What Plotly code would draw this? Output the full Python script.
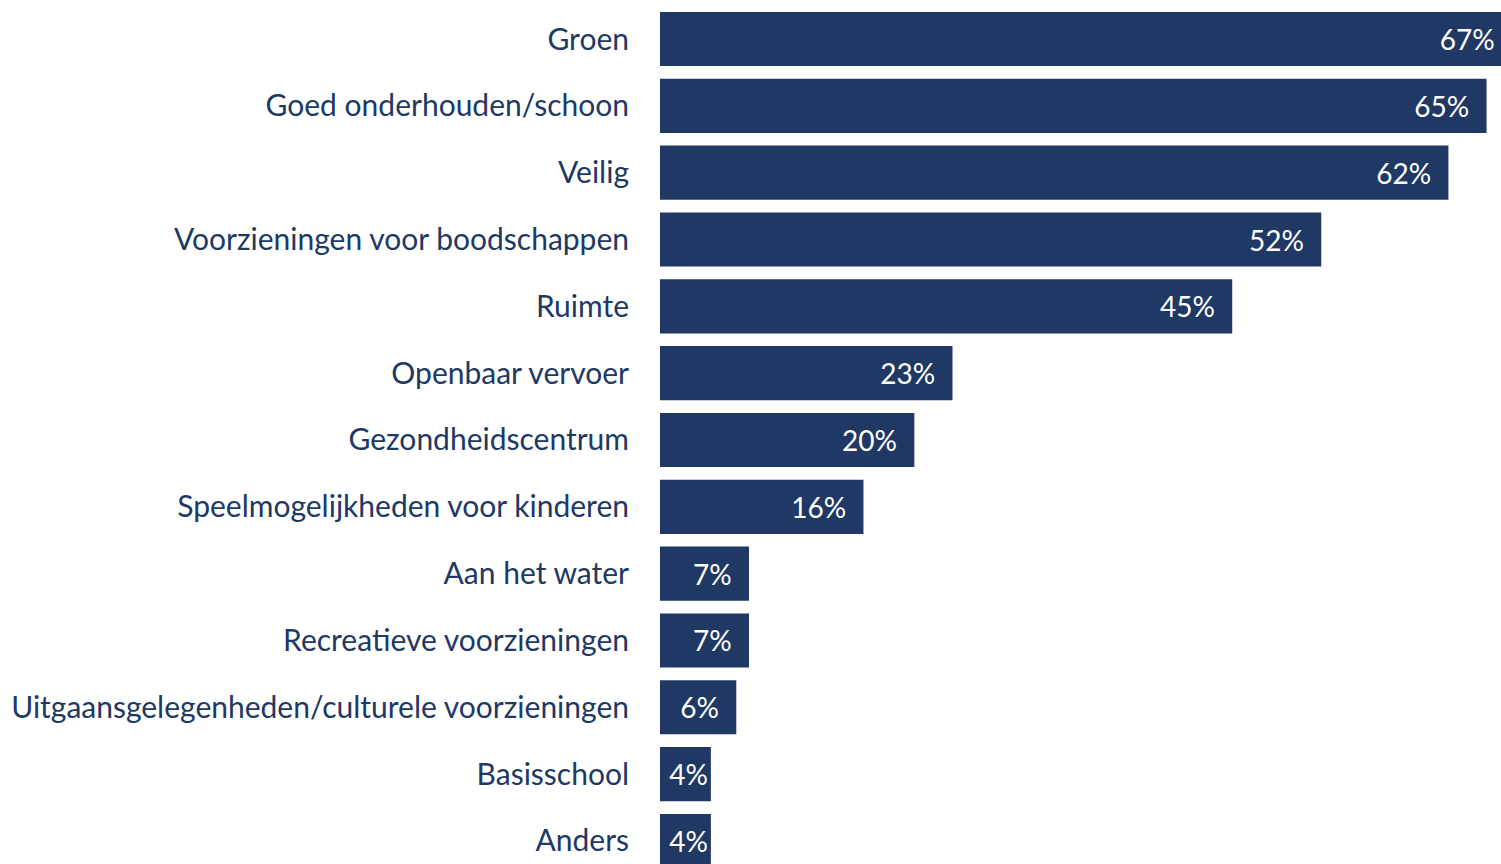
import plotly.graph_objects as go

categories = [
    "Groen",
    "Goed onderhouden/schoon",
    "Veilig",
    "Voorzieningen voor boodschappen",
    "Ruimte",
    "Openbaar vervoer",
    "Gezondheidscentrum",
    "Speelmogelijkheden voor kinderen",
    "Aan het water",
    "Recreatieve voorzieningen",
    "Uitgaansgelegenheden/culturele voorzieningen",
    "Basisschool",
    "Anders",
]
values = [67, 65, 62, 52, 45, 23, 20, 16, 7, 7, 6, 4, 4]

NAVY = "#203864"
PAD = "\u00a0\u00a0"
labels = [f"{v}%" + (PAD if v > 5 else "") for v in values]

fig = go.Figure(
    go.Bar(
        x=values,
        y=categories,
        orientation="h",
        marker=dict(color=NAVY, line=dict(width=0)),
        text=labels,
        textposition="inside",
        insidetextanchor="end",
        constraintext="none",
        textfont=dict(family="Lato", size=28, color="white"),
        cliponaxis=False,
        hoverinfo="skip",
    )
)

# The source chart is cropped on the right: the longest bar runs past the
# visible edge, so the figure is slightly wider than the 1501 px view.
fig.update_layout(
    width=1512,
    height=864,
    margin=dict(l=660, r=0, t=0, b=0),
    paper_bgcolor="white",
    plot_bgcolor="white",
    bargap=0.19,
    showlegend=False,
    font=dict(family="Lato", size=30, color=NAVY),
    xaxis=dict(range=[0, 67], visible=False, fixedrange=True),
    yaxis=dict(
        type="category",
        categoryorder="array",
        categoryarray=categories,
        range=[12.345, -0.584],
        showgrid=False,
        zeroline=False,
        showline=False,
        ticks="",
        ticklabelstandoff=30,
        tickfont=dict(family="Lato", size=30, color=NAVY),
        fixedrange=True,
    ),
)

fig.write_html(
    "out.html",
    config={"displayModeBar": False},
    post_script=(
        "document.body.style.margin='0';"
        "document.body.style.overflow='hidden';"
        "var gd=document.getElementById('{plot_id}');"
        "gd.style.width='1501px';gd.style.height='864px';gd.style.overflow='hidden';"
    ),
)
